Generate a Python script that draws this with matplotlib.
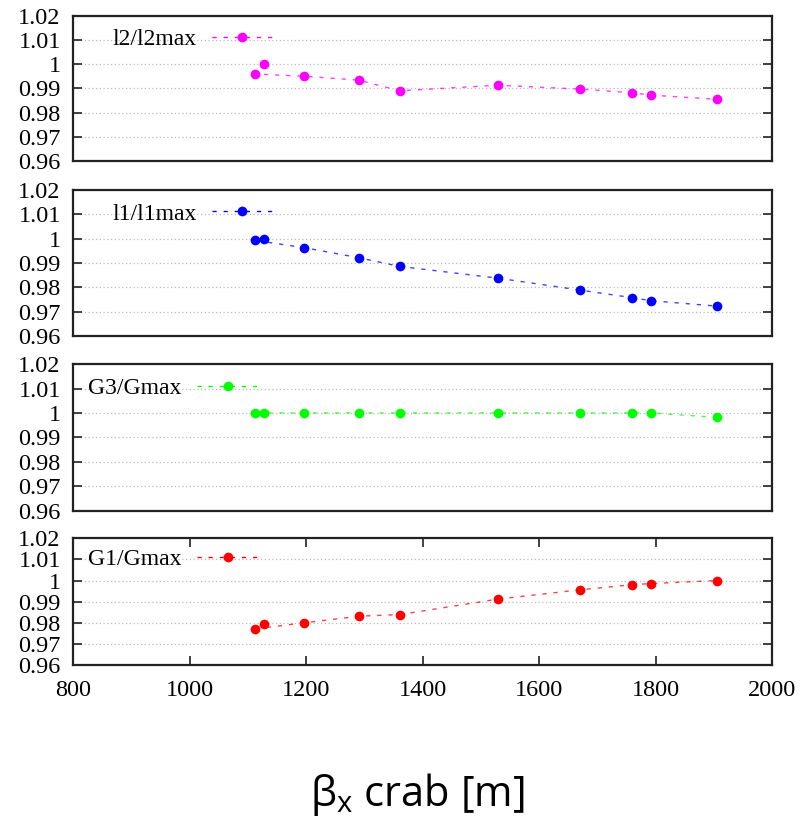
"""Four stacked panels: normalised quantities vs beta_x at the crab cavity."""

import matplotlib
matplotlib.use('Agg')

import matplotlib.pyplot as plt
import matplotlib.ticker as ticker

# ── Data ────────────────────────────────────────────────────────────────────
BETA_X = [1127, 1112, 1197, 1290, 1361, 1529, 1670, 1759, 1793, 1905]

L2_RATIO = [1.0000, 0.9959, 0.9950, 0.9934, 0.9890, 0.9913, 0.9897, 0.9882, 0.9872, 0.9855]
L1_RATIO = [1.0000, 0.9993, 0.9963, 0.9922, 0.9886, 0.9838, 0.9789, 0.9758, 0.9745, 0.9723]
G3_RATIO = [1.0000, 1.0000, 1.0000, 1.0000, 1.0000, 1.0000, 1.0000, 1.0000, 1.0000, 0.9982]
G1_RATIO = [0.9796, 0.9771, 0.9800, 0.9831, 0.9839, 0.9912, 0.9956, 0.9980, 0.9986, 1.0000]

SERIES_LABELS = ['l2/l2max', 'l1/l1max', 'G3/Gmax', 'G1/Gmax']
SERIES_COLORS = ['#ff00ff', '#0000ff', '#00ff00', '#ff0000']

Y_TICKS = [0.96, 0.97, 0.98, 0.99, 1.00, 1.01, 1.02]
Y_TICK_LABELS = ['0.96', '0.97', '0.98', '0.99', '1', '1.01', '1.02']
X_TICKS = [800, 1000, 1200, 1400, 1600, 1800, 2000]

XLO, XHI = 800, 2000
YLO, YHI = 0.96, 1.02

# panel rectangles in figure fraction (left, bottom, width, height)
PANEL_RECTS = [
    (0.0904, 0.8041, 0.8615, 0.1768),
    (0.0904, 0.5912, 0.8615, 0.1776),
    (0.0904, 0.3787, 0.8615, 0.1784),
    (0.0904, 0.1910, 0.8615, 0.1541),
]
# right end of the key sample, axes fraction
KEY_X = [0.286, 0.286, 0.265, 0.265]

SERIF = 'Liberation Serif'
MS = 7.0


def main() -> None:
    plt.rcParams['mathtext.fontset'] = 'custom'
    plt.rcParams['mathtext.rm'] = 'Open Sans'
    plt.rcParams['mathtext.it'] = 'Open Sans'

    fig = plt.figure(figsize=(8.11, 8.22), dpi=100)
    series = [L2_RATIO, L1_RATIO, G3_RATIO, G1_RATIO]

    for i, (vals, label, color) in enumerate(zip(series, SERIES_LABELS, SERIES_COLORS)):
        ax = fig.add_axes(PANEL_RECTS[i])
        bottom = i == len(series) - 1

        ax.plot(BETA_X, vals, color=color, lw=1.0, alpha=0.75,
                dashes=(3, 5), zorder=2)
        ax.plot(BETA_X, vals, linestyle='none', marker='o', ms=MS,
                color=color, markeredgewidth=0, zorder=3)

        # key: label on the left, sample line + marker on the right
        handle = plt.Line2D([0], [0], color=color, lw=1.0, dashes=(3, 5),
                            marker='o', ms=MS, markeredgewidth=0)
        ax.legend([handle], [label], loc='center right',
                  bbox_to_anchor=(KEY_X[i], 0.836), bbox_transform=ax.transAxes,
                  frameon=False, markerfirst=False, numpoints=1,
                  handlelength=2.6, handletextpad=0.65, borderpad=0,
                  borderaxespad=0,
                  prop={'family': SERIF, 'size': 17})

        ax.set_xlim(XLO, XHI)
        ax.set_ylim(YLO, YHI)

        ax.yaxis.set_major_locator(ticker.FixedLocator(Y_TICKS))
        ax.yaxis.set_major_formatter(ticker.FixedFormatter(Y_TICK_LABELS))
        ax.grid(True, axis='y', color='#bbbbbb', lw=0.9, linestyle=(0, (1, 2)),
                zorder=0)

        ax.tick_params(axis='y', which='both', direction='in', left=True,
                       right=True, length=6.5, width=1.3, color='#333333',
                       labelsize=17.5, pad=9)
        if bottom:
            ax.xaxis.set_major_locator(ticker.FixedLocator(X_TICKS))
            ax.tick_params(axis='x', direction='in', top=True, bottom=True,
                           length=6.5, width=1.3, color='#333333',
                           labelsize=17.5, pad=11)
        else:
            ax.tick_params(axis='x', which='both', top=False, bottom=False,
                           labelbottom=False)

        for lbl in ax.get_xticklabels() + ax.get_yticklabels():
            lbl.set_fontfamily(SERIF)

        for sp in ax.spines.values():
            sp.set_linewidth(1.6)
            sp.set_color('#222222')

    fig.text(0.515, 0.02, r'$\mathrm{\beta_x}$ crab [m]', ha='center',
             va='baseline', fontsize=30, family='Open Sans')

    fig.savefig('out.png', dpi=100, facecolor='white')
    plt.close(fig)


if __name__ == '__main__':
    main()
